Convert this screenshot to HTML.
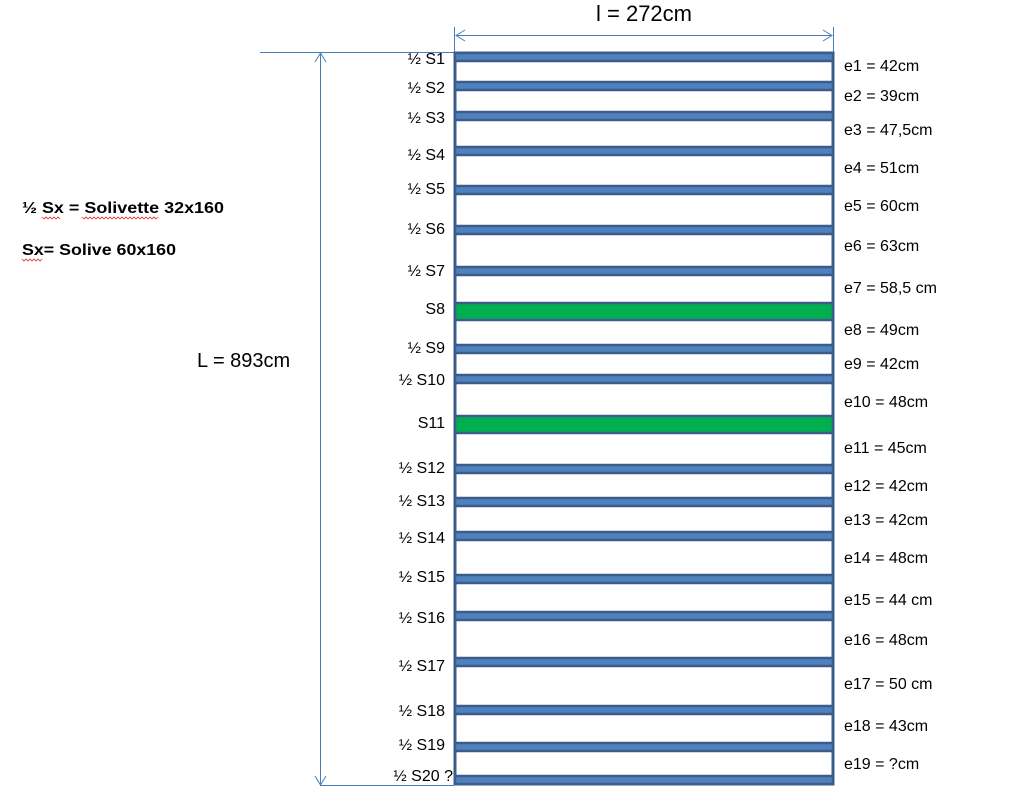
<!DOCTYPE html>
<html><head><style>body{margin:0;background:#fff}svg{display:block}text{font-family:"Liberation Sans",sans-serif;fill:#000}</style></head>
<body>
<svg width="1019" height="796" viewBox="0 0 1019 796" xmlns="http://www.w3.org/2000/svg">
<g stroke="#4a7ebb" stroke-width="1" fill="none">
<line x1="260" y1="52.5" x2="454" y2="52.5"/>
<line x1="320" y1="785.5" x2="454" y2="785.5"/>
<line x1="320.5" y1="53" x2="320.5" y2="785"/>
<polyline points="315,62 320.5,53 326,62"/>
<polyline points="315,776 320.5,785 326,776"/>
<line x1="454.5" y1="27" x2="454.5" y2="52"/>
<line x1="833.5" y1="27" x2="833.5" y2="52"/>
<line x1="456" y1="35.5" x2="832" y2="35.5"/>
<polyline points="465,30 456,35.5 465,41"/>
<polyline points="823,30 832,35.5 823,41"/>
</g>
<text x="644" y="21" font-size="22" text-anchor="middle">l = 272cm</text>
<text x="197" y="367" font-size="20">L = 893cm</text>
<text x="22" y="213" font-size="16" font-weight="bold" textLength="202" lengthAdjust="spacingAndGlyphs">½ Sx = Solivette 32x160</text>
<text x="22" y="255" font-size="16" font-weight="bold" textLength="154" lengthAdjust="spacingAndGlyphs">Sx= Solive 60x160</text>
<g stroke="#e03030" stroke-width="0.8" fill="none">
<polyline points="42,217 44,219 46,217 48,219 50,217 52,219 54,217 56,219 58,217 60,219"/>
<polyline points="82,217 84,219 86,217 88,219 90,217 92,219 94,217 96,219 98,217 100,219 102,217 104,219 106,217 108,219 110,217 112,219 114,217 116,219 118,217 120,219 122,217 124,219 126,217 128,219 130,217 132,219 134,217 136,219 138,217 140,219 142,217 144,219 146,217 148,219 150,217 152,219 154,217 156,219 158,217"/>
<polyline points="22,259 24,261 26,259 28,261 30,259 32,261 34,259 36,261 38,259 40,261 42,259"/>
</g>
<rect x="455" y="53" width="378" height="731" fill="#fff" stroke="#3c5d8c" stroke-width="3"/>
<g fill="#4f81bd" stroke="#3c5d8c" stroke-width="2.5">
<rect x="455" y="53" width="378" height="8"/>
<rect x="455" y="82" width="378" height="8"/>
<rect x="455" y="112" width="378" height="8"/>
<rect x="455" y="147" width="378" height="8"/>
<rect x="455" y="186" width="378" height="8"/>
<rect x="455" y="226" width="378" height="8"/>
<rect x="455" y="267" width="378" height="8"/>
<rect x="455" y="345" width="378" height="8"/>
<rect x="455" y="375" width="378" height="8"/>
<rect x="455" y="465" width="378" height="8"/>
<rect x="455" y="498" width="378" height="8"/>
<rect x="455" y="532" width="378" height="8"/>
<rect x="455" y="575" width="378" height="8"/>
<rect x="455" y="612" width="378" height="8"/>
<rect x="455" y="658" width="378" height="8"/>
<rect x="455" y="706" width="378" height="8"/>
<rect x="455" y="743" width="378" height="8"/>
<rect x="455" y="776" width="378" height="8"/>
</g>
<g fill="#00b050" stroke="#3c5d8c" stroke-width="2.5">
<rect x="455" y="303" width="378" height="17"/>
<rect x="455" y="416" width="378" height="17"/>
</g>
<g font-size="16" text-anchor="end">
<text x="445" y="64">½ S1</text>
<text x="445" y="93">½ S2</text>
<text x="445" y="123">½ S3</text>
<text x="445" y="160">½ S4</text>
<text x="445" y="194">½ S5</text>
<text x="445" y="234">½ S6</text>
<text x="445" y="276">½ S7</text>
<text x="445" y="314">S8</text>
<text x="445" y="353">½ S9</text>
<text x="445" y="385">½ S10</text>
<text x="445" y="428">S11</text>
<text x="445" y="473">½ S12</text>
<text x="445" y="506">½ S13</text>
<text x="445" y="543">½ S14</text>
<text x="445" y="582">½ S15</text>
<text x="445" y="623">½ S16</text>
<text x="445" y="671">½ S17</text>
<text x="445" y="716">½ S18</text>
<text x="445" y="750">½ S19</text>
<text x="453" y="781">½ S20 ?</text>
</g>
<g font-size="16">
<text x="844" y="71">e1 = 42cm</text>
<text x="844" y="101">e2 = 39cm</text>
<text x="844" y="135">e3 = 47,5cm</text>
<text x="844" y="173">e4 = 51cm</text>
<text x="844" y="211">e5 = 60cm</text>
<text x="844" y="251">e6 = 63cm</text>
<text x="844" y="293">e7 = 58,5 cm</text>
<text x="844" y="335">e8 = 49cm</text>
<text x="844" y="369">e9 = 42cm</text>
<text x="844" y="407">e10 = 48cm</text>
<text x="844" y="453">e11 = 45cm</text>
<text x="844" y="491">e12 = 42cm</text>
<text x="844" y="525">e13 = 42cm</text>
<text x="844" y="563">e14 = 48cm</text>
<text x="844" y="605">e15 = 44 cm</text>
<text x="844" y="645">e16 = 48cm</text>
<text x="844" y="689">e17 = 50 cm</text>
<text x="844" y="731">e18 = 43cm</text>
<text x="844" y="769">e19 = ?cm</text>
</g>
</svg>
</body></html>
